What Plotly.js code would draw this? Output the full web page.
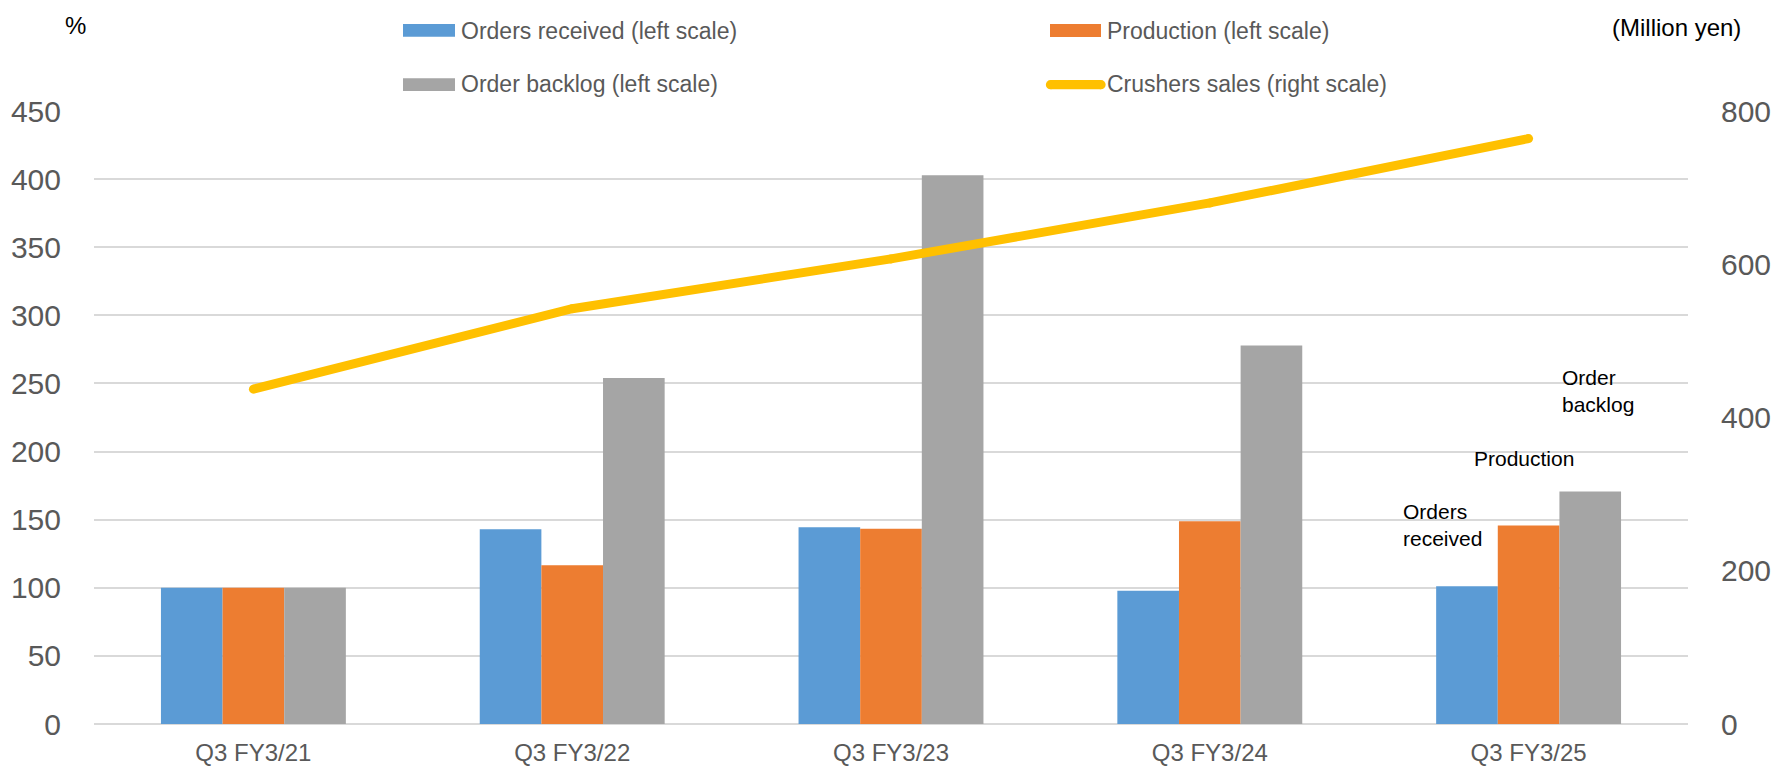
<!DOCTYPE html>
<html>
<head>
<meta charset="utf-8">
<script src="https://cdn.plot.ly/plotly-3.0.1.min.js"></script>
<style>
html,body{margin:0;padding:0;background:#fff;}
#chart{width:1771px;height:767px;}
</style>
</head>
<body>
<div id="chart"></div>
<script>
// ---- data ----
const categories = ["Q3 FY3/21", "Q3 FY3/22", "Q3 FY3/23", "Q3 FY3/24", "Q3 FY3/25"];
const ordersReceived = [100, 143, 144.5, 97.8, 101.2];
const production = [100, 116.6, 143.3, 148.9, 145.7];
const orderBacklog = [100, 254, 402.8, 277.9, 170.6];
const crushersSales = [437, 542, 607, 680, 764];
const seriesNames = ["Orders received (left scale)", "Production (left scale)", "Order backlog (left scale)", "Crushers sales (right scale)"];
const leftTicks = [0, 50, 100, 150, 200, 250, 300, 350, 400, 450];
const rightTicks = [0, 200, 400, 600, 800];

// ---- layout helpers ----
const W = 1771, H = 767, ML = 94, MR = 83, MT = 111, MB = 43;
const PW = W - ML - MR, PH = H - MT - MB;
const px2x = p => (p - ML) / PW;
const px2y = p => (H - MB - p) / PH;

const FONT = "Arial, 'Liberation Sans', sans-serif";
const colors = ["#5B9BD5", "#ED7D31", "#A5A5A5", "#FFC000"];
const gray = "#595959";

const traces = [
  {type: "bar", name: seriesNames[0], x: categories, y: ordersReceived, marker: {color: colors[0]}, yaxis: "y"},
  {type: "bar", name: seriesNames[1], x: categories, y: production, marker: {color: colors[1]}, yaxis: "y"},
  {type: "bar", name: seriesNames[2], x: categories, y: orderBacklog, marker: {color: colors[2]}, yaxis: "y"},
  {type: "scatter", mode: "lines+markers", name: seriesNames[3], x: categories, y: crushersSales, yaxis: "y2",
   line: {color: colors[3], width: 9}, marker: {color: colors[3], size: 9}}
];

// custom legend (symbols as shapes, text as annotations)
const shapes = [];
const annotations = [];
function rectSym(x0, x1, y0, y1, c) {
  shapes.push({type: "rect", xref: "paper", yref: "paper", x0: px2x(x0), x1: px2x(x1), y0: px2y(y0), y1: px2y(y1),
    fillcolor: c, line: {width: 0}});
}
rectSym(403, 455, 24, 36.7, colors[0]);
rectSym(1050, 1101, 24, 37, colors[1]);
rectSym(403, 455, 78.3, 91, colors[2]);
// yellow line symbol with round ends
shapes.push({type: "line", xref: "paper", yref: "paper", x0: px2x(1050.5), x1: px2x(1101), y0: px2y(84.7), y1: px2y(84.7),
  line: {color: colors[3], width: 9.3}});
[1050.5, 1101].forEach(cx => {
  shapes.push({type: "circle", xref: "paper", yref: "paper", x0: px2x(cx - 4.65), x1: px2x(cx + 4.65),
    y0: px2y(84.7 + 4.65), y1: px2y(84.7 - 4.65), fillcolor: colors[3], line: {width: 0}});
});
function txt(text, x, y, size, color, xanchor, align) {
  annotations.push({text: text, xref: "paper", yref: "paper", x: px2x(x), y: px2y(y), xanchor: xanchor || "left",
    yanchor: "middle", align: align || "left", showarrow: false, font: {family: FONT, size: size, color: color}});
}
txt(seriesNames[0], 459, 30.8, 23, gray);
txt(seriesNames[1], 1105, 30.8, 23, gray);
txt(seriesNames[2], 459, 84.5, 23, gray);
txt(seriesNames[3], 1105, 84.5, 23, gray);
// axis unit labels
txt("%", 75.5, 25.5, 24, "#000", "center", "center");
txt("(Million yen)", 1676, 27.5, 24, "#000", "center", "center");
// in-chart labels
txt("Orders<br>received", 1401, 525, 21, "#000");
txt("Production", 1472, 458, 21, "#000");
txt("Order<br>backlog", 1560, 390.5, 21, "#000");

const layout = {
  width: W, height: H,
  margin: {l: ML, r: MR, t: MT, b: MB, pad: 0},
  paper_bgcolor: "#fff", plot_bgcolor: "#fff",
  showlegend: false,
  barmode: "group", bargap: 0.42, bargroupgap: 0,
  font: {family: FONT, color: gray},
  xaxis: {type: "category", categoryorder: "array", categoryarray: categories, showgrid: false, showline: false, zeroline: false,
    ticks: "outside", ticklen: 7, tickcolor: "rgba(0,0,0,0)", tickfont: {family: FONT, size: 24, color: gray}},
  yaxis: {range: [0, 450], tickvals: leftTicks, ticktext: leftTicks.map(String), showgrid: true, gridcolor: "#D9D9D9", gridwidth: 2,
    zeroline: true, zerolinecolor: "#D9D9D9", zerolinewidth: 2, showline: false,
    ticks: "outside", ticklen: 26, tickcolor: "rgba(0,0,0,0)", tickfont: {family: FONT, size: 30, color: gray}},
  yaxis2: {range: [0, 800], tickvals: rightTicks, ticktext: rightTicks.map(String), overlaying: "y", side: "right",
    showgrid: false, zeroline: false, showline: false,
    ticks: "outside", ticklen: 26, tickcolor: "rgba(0,0,0,0)", tickfont: {family: FONT, size: 30, color: gray}},
  shapes: shapes,
  annotations: annotations
};

Plotly.newPlot("chart", traces, layout, {staticPlot: true, displayModeBar: false});
</script>
</body>
</html>
